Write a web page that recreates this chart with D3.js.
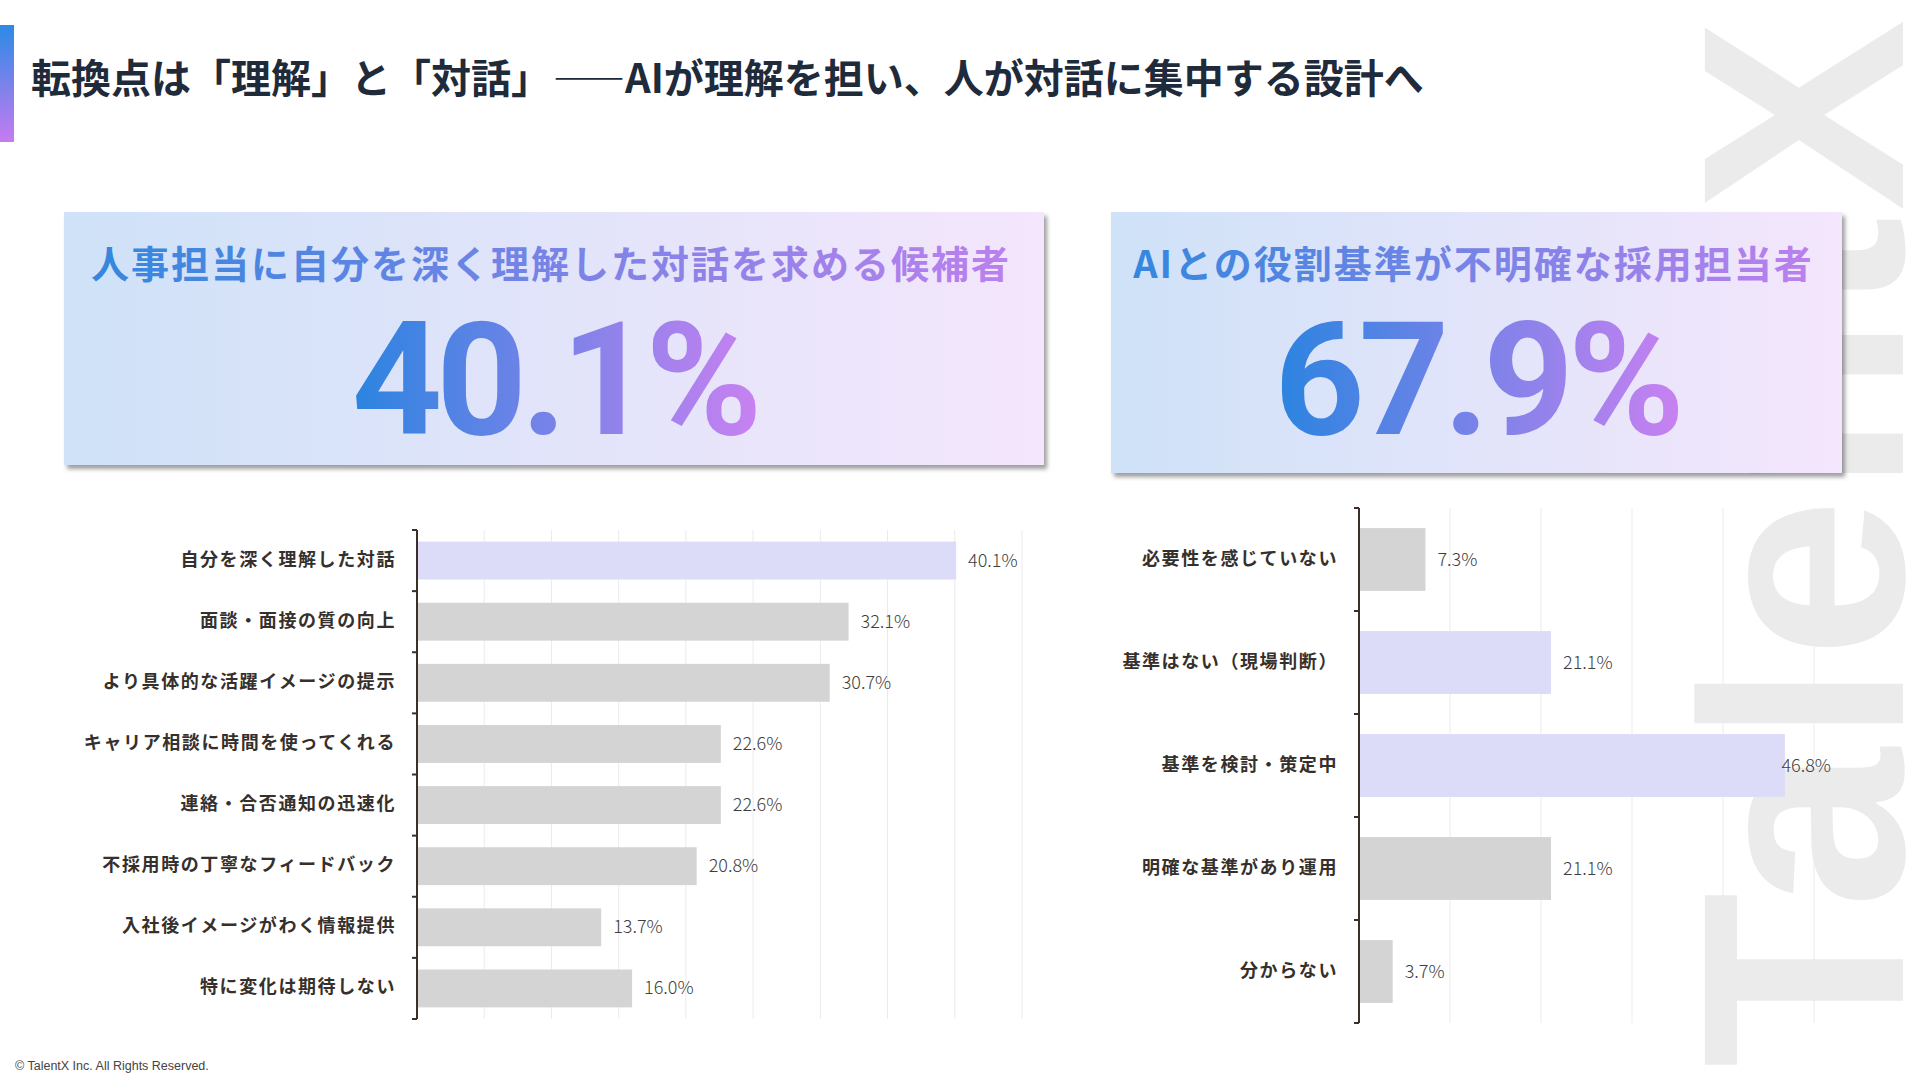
<!DOCTYPE html>
<html lang="ja">
<head>
<meta charset="utf-8">
<script src="https://cdn.jsdelivr.net/npm/d3@7/dist/d3.min.js"></script>
<style>
  html, body { margin: 0; padding: 0; background: #ffffff; }
  svg { display: block; }
</style>
</head>
<body>
<svg id="chart" width="1920" height="1080"></svg>
<script>
// ---------- data ----------
const titleParts = ["転換点は「理解」と「対話」", "——", "AIが理解を担い、人が対話に集中する設計へ"];
const cardTitles = ["人事担当に自分を深く理解した対話を求める候補者", "AIとの役割基準が不明確な採用担当者"];
const cardValues = [40.1, 67.9];

const leftCategories = [
  "自分を深く理解した対話",
  "面談・面接の質の向上",
  "より具体的な活躍イメージの提示",
  "キャリア相談に時間を使ってくれる",
  "連絡・合否通知の迅速化",
  "不採用時の丁寧なフィードバック",
  "入社後イメージがわく情報提供",
  "特に変化は期待しない"
];
const leftValues = [40.1, 32.1, 30.7, 22.6, 22.6, 20.8, 13.7, 16.0];
const leftHighlight = ["自分を深く理解した対話"];
const leftTicks = [5, 10, 15, 20, 25, 30, 35, 40, 45];

const rightCategories = [
  "必要性を感じていない",
  "基準はない（現場判断）",
  "基準を検討・策定中",
  "明確な基準があり運用",
  "分からない"
];
const rightValues = [7.3, 21.1, 46.8, 21.1, 3.7];
const rightHighlight = ["基準はない（現場判断）", "基準を検討・策定中"];
const rightTicks = [10, 20, 30, 40, 50];

const watermark = "TalentX";
const copyright = "© TalentX Inc. All Rights Reserved.";

// ---------- setup ----------
const svg = d3.select("#chart");
const JP = "'Noto Sans CJK JP', 'Noto Sans', sans-serif";
const defs = svg.append("defs");

function hGrad(id, c1, c2) {
  const g = defs.append("linearGradient").attr("id", id)
    .attr("x1", "0%").attr("y1", "0%").attr("x2", "100%").attr("y2", "0%");
  g.append("stop").attr("offset", "0%").attr("stop-color", c1);
  g.append("stop").attr("offset", "100%").attr("stop-color", c2);
}
hGrad("cardBg", "#cfe2f8", "#f4e6fc");
hGrad("numGrad", "#2a84e0", "#c881f1");
hGrad("titleGrad", "#3487de", "#bb80ee");
const vg = defs.append("linearGradient").attr("id", "accent")
  .attr("x1", "0%").attr("y1", "0%").attr("x2", "0%").attr("y2", "100%");
vg.append("stop").attr("offset", "0%").attr("stop-color", "#2c8ae6");
vg.append("stop").attr("offset", "100%").attr("stop-color", "#c67bf0");

const shadow = defs.append("filter").attr("id", "shadow")
  .attr("x", "-5%").attr("y", "-5%").attr("width", "115%").attr("height", "125%");
shadow.append("feDropShadow").attr("dx", 3).attr("dy", 4).attr("stdDeviation", 2)
  .attr("flood-color", "#000").attr("flood-opacity", 0.38);

// ---------- watermark ----------
svg.append("text")
  .attr("transform", "translate(1903,1068) rotate(-90)")
  .attr("font-family", "'Liberation Sans', Arial, sans-serif")
  .attr("font-weight", 700)
  .attr("font-size", 288)
  .attr("letter-spacing", 5)
  .attr("fill", "#ebebec")
  .text(watermark);

// ---------- header ----------
svg.append("rect").attr("x", 0).attr("y", 25).attr("width", 14).attr("height", 117)
  .attr("fill", "url(#accent)");
const title = svg.append("text")
  .attr("x", 31).attr("y", 93)
  .attr("font-family", JP).attr("font-weight", 700).attr("font-size", 40)
  .attr("fill", "#1f2a3a");
title.append("tspan").text(titleParts[0]);
title.append("tspan").attr("font-size", 36).attr("letter-spacing", 6).attr("dx", 2).text(titleParts[1]);
title.append("tspan").attr("dx", -6).text(titleParts[2]);

// ---------- KPI cards ----------
const cards = [
  { x: 64, y: 212, w: 980, h: 253 },
  { x: 1111, y: 212, w: 731, h: 261 }
];
cards.forEach((c, i) => {
  const g = svg.append("g");
  g.append("rect").attr("x", c.x).attr("y", c.y).attr("width", c.w).attr("height", c.h)
    .attr("fill", "url(#cardBg)").attr("filter", "url(#shadow)");
  const cx = c.x + c.w / 2;
  g.append("text")
    .attr("x", cx - 3).attr("y", 278)
    .attr("text-anchor", "middle")
    .attr("font-family", JP).attr("font-weight", 700).attr("font-size", 38)
    .attr("letter-spacing", 2)
    .attr("fill", "url(#titleGrad)")
    .text(cardTitles[i]);
  g.append("text")
    .attr("x", cx).attr("y", 434)
    .attr("text-anchor", "middle")
    .attr("font-family", "Roboto, 'Liberation Sans', Arial, sans-serif")
    .attr("font-weight", 700).attr("font-size", 158)
    .attr("letter-spacing", -6)
    .attr("fill", "url(#numGrad)")
    .text(d3.format(".1f")(cardValues[i]) + "%");
});

// ---------- bar charts ----------
function barChart(opt) {
  const g = svg.append("g");
  const x = d3.scaleLinear().domain(opt.domain).range(opt.xRange);
  const y = d3.scaleBand().domain(opt.categories).range(opt.yRange)
    .paddingInner(opt.pad).paddingOuter(opt.pad / 2);

  // gridlines
  g.selectAll(".grid").data(opt.ticks).enter().append("line")
    .attr("x1", d => x(d)).attr("x2", d => x(d))
    .attr("y1", opt.yRange[0]).attr("y2", opt.yRange[1])
    .attr("stroke", "#ebebeb").attr("stroke-width", 1);

  const data = opt.categories.map((c, i) => ({ c, v: opt.values[i] }));

  // bars
  g.selectAll(".bar").data(data).enter().append("rect")
    .attr("x", x(0)).attr("y", d => y(d.c))
    .attr("width", d => x(d.v) - x(0)).attr("height", y.bandwidth())
    .attr("fill", d => opt.highlight.includes(d.c) ? "#dcdcf8" : "#d4d4d4");

  // value labels
  g.selectAll(".val").data(data).enter().append("text")
    .attr("x", d => x(d.v) + 12)
    .attr("y", d => y(d.c) + y.bandwidth() / 2 + 6)
    .attr("font-family", JP).attr("font-weight", 300).attr("font-size", 18)
    .attr("fill", "#3e3e3e")
    .text(d => d3.format(".1f")(d.v) + "%")
    .each(function (d) {
      const w = this.getComputedTextLength();
      if (x(d.v) + 12 + w > opt.labelLimit) {
        d3.select(this).attr("x", opt.labelLimit).attr("text-anchor", "end");
      }
    });

  // category axis (ticks at band boundaries)
  const axisX = x(0);
  g.append("line").attr("x1", axisX).attr("x2", axisX)
    .attr("y1", opt.yRange[0]).attr("y2", opt.yRange[1])
    .attr("stroke", "#3b2f27").attr("stroke-width", 2);
  const bounds = d3.range(opt.categories.length + 1).map(i => opt.yRange[0] + i * y.step());
  g.selectAll(".tk").data(bounds).enter().append("line")
    .attr("x1", axisX - 5).attr("x2", axisX)
    .attr("y1", d => d).attr("y2", d => d)
    .attr("stroke", "#3b2f27").attr("stroke-width", 2);

  g.selectAll(".cat").data(opt.categories).enter().append("text")
    .attr("x", axisX - 21)
    .attr("y", d => y(d) + y.bandwidth() / 2 + 5)
    .attr("text-anchor", "end")
    .attr("font-family", JP).attr("font-weight", 700).attr("font-size", 18)
    .attr("letter-spacing", 1.6)
    .attr("fill", "#36302c")
    .text(d => d);
}

barChart({
  categories: leftCategories, values: leftValues, highlight: leftHighlight,
  ticks: leftTicks, domain: [0, 45], xRange: [417, 1022], yRange: [530, 1019],
  pad: 0.38, labelLimit: 1060
});
barChart({
  categories: rightCategories, values: rightValues, highlight: rightHighlight,
  ticks: rightTicks, domain: [0, 50], xRange: [1359, 1814], yRange: [508, 1023],
  pad: 0.39, labelLimit: 1831
});

// ---------- footer ----------
svg.append("text")
  .attr("x", 15).attr("y", 1070)
  .attr("font-family", "'Liberation Sans', Arial, sans-serif")
  .attr("font-size", 12.5).attr("fill", "#444")
  .text(copyright);
</script>
</body>
</html>
